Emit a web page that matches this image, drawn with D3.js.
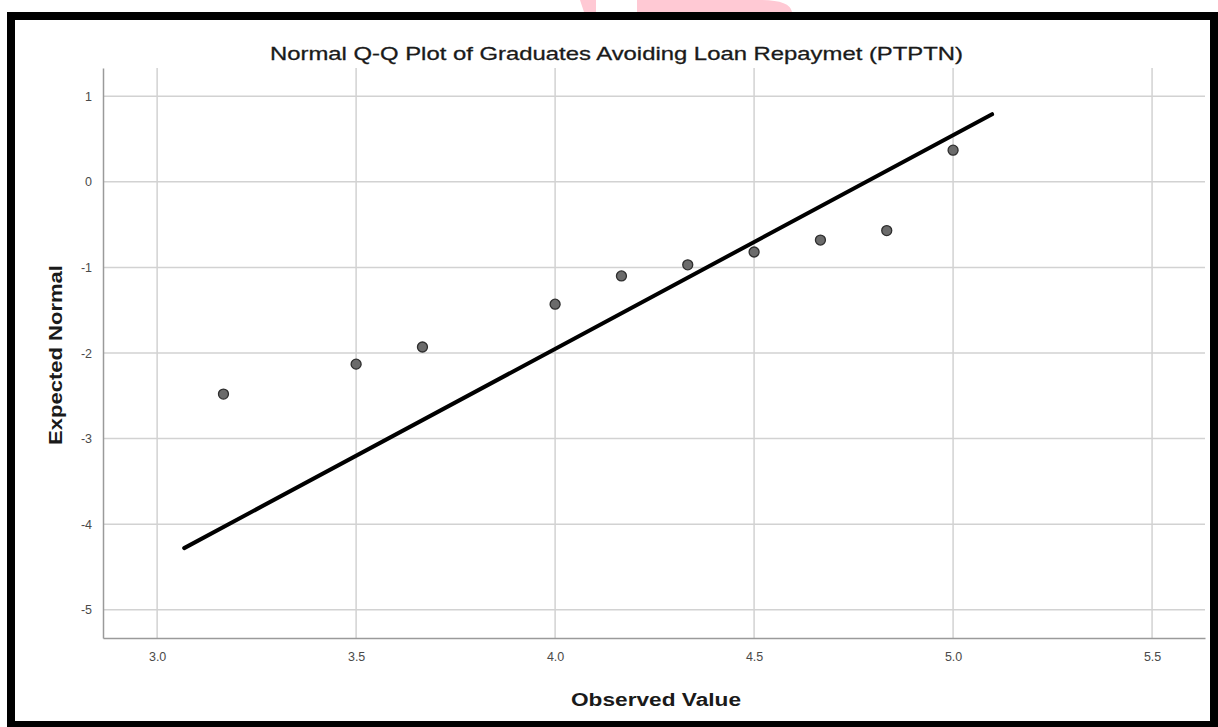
<!DOCTYPE html>
<html>
<head>
<meta charset="utf-8">
<script src="https://cdn.jsdelivr.net/npm/d3@7"></script>
<style>
  html, body { margin: 0; padding: 0; background: #fff; }
  svg { display: block; }
</style>
</head>
<body>
<svg id="chart" width="1218" height="727"></svg>
<script>
// ---- data ----
const title = "Normal Q-Q Plot of Graduates Avoiding Loan Repaymet (PTPTN)";
const xLabel = "Observed Value";
const yLabel = "Expected Normal";
const observed = [3.1667, 3.5, 3.6667, 4.0, 4.1667, 4.3333, 4.5, 4.6667, 4.8333, 5.0];
const expected = [-2.48, -2.13, -1.93, -1.43, -1.10, -0.97, -0.82, -0.68, -0.57, 0.37];
const lineX = [3.068, 5.098];
const lineY = [-4.28, 0.79];
const xTicks = [3.0, 3.5, 4.0, 4.5, 5.0, 5.5];
const yTicks = [1, 0, -1, -2, -3, -4, -5];

// ---- drawing ----
const svg = d3.select("#chart");

// watermark (pink shape above frame)
svg.append("path")
  .attr("d", "M580,0 L596,0 L596,12 L584,12 Z M637,0 L760,0 Q790,0 792,12 L637,12 Z")
  .attr("fill", "#ffc9d4");

const pL = 103, pR = 1205, pT = 68, pB = 638;
const x = d3.scaleLinear().domain([2.864, 5.633]).range([pL, pR]);
const y = d3.scaleLinear().domain([-5.33, 1.33]).range([pB, pT]);

const g = svg.append("g");

// gridlines
g.append("g").selectAll("line").data(xTicks).join("line")
  .attr("x1", d => x(d)).attr("x2", d => x(d))
  .attr("y1", pT).attr("y2", pB)
  .attr("stroke", "#d2d2d2").attr("stroke-width", 1.5);
g.append("g").selectAll("line").data(yTicks).join("line")
  .attr("x1", pL).attr("x2", pR)
  .attr("y1", d => y(d)).attr("y2", d => y(d))
  .attr("stroke", "#d2d2d2").attr("stroke-width", 1.5);

// axes
const xAxis = d3.axisBottom(x).tickValues(xTicks).tickFormat(d3.format(".1f")).tickSize(0).tickPadding(14);
const yAxis = d3.axisLeft(y).tickValues(yTicks).tickFormat(d => d < 0 ? "-" + Math.abs(d) : d).tickSize(0).tickPadding(11);
const gx = g.append("g").attr("transform", `translate(0,${pB})`).call(xAxis);
const gy = g.append("g").attr("transform", `translate(${pL},0)`).call(yAxis);
[gx, gy].forEach(a => {
  a.select(".domain").attr("stroke", "#9a9a9a").attr("stroke-width", 1.5);
  a.selectAll("text").attr("fill", "#4a4a4a").style("font-family", "Arial, 'Liberation Sans', sans-serif").style("font-size", "12.5px");
});

// reference line
g.append("line")
  .attr("x1", x(lineX[0])).attr("y1", y(lineY[0]))
  .attr("x2", x(lineX[1])).attr("y2", y(lineY[1]))
  .attr("stroke", "#000").attr("stroke-width", 4).attr("stroke-linecap", "round");

// points
g.append("g").selectAll("circle").data(observed.map((v, i) => [v, expected[i]])).join("circle")
  .attr("cx", d => x(d[0])).attr("cy", d => y(d[1]))
  .attr("r", 5)
  .attr("fill", "#6b6b6b").attr("stroke", "#2e2e2e").attr("stroke-width", 1.3);

// title
svg.append("text")
  .attr("x", 270).attr("y", 60)
  .attr("textLength", 693).attr("lengthAdjust", "spacingAndGlyphs")
  .style("font-family", "Arial, 'Liberation Sans', sans-serif")
  .style("font-size", "19px").attr("fill", "#1a1a1a")
  .attr("stroke", "#1a1a1a").attr("stroke-width", 0.3)
  .text(title);

// axis labels
svg.append("text")
  .attr("x", 571).attr("y", 706)
  .attr("textLength", 170).attr("lengthAdjust", "spacingAndGlyphs")
  .style("font-family", "Arial, 'Liberation Sans', sans-serif")
  .style("font-size", "18px").style("font-weight", "bold").attr("fill", "#1a1a1a")
  .text(xLabel);
svg.append("text")
  .attr("transform", "translate(62,445) rotate(-90)")
  .attr("textLength", 180).attr("lengthAdjust", "spacingAndGlyphs")
  .style("font-family", "Arial, 'Liberation Sans', sans-serif")
  .style("font-size", "18px").style("font-weight", "bold").attr("fill", "#1a1a1a")
  .text(yLabel);

// black frame
svg.append("rect")
  .attr("x", 11).attr("y", 16).attr("width", 1203).attr("height", 709)
  .attr("fill", "none").attr("stroke", "#000").attr("stroke-width", 8);
</script>
</body>
</html>
